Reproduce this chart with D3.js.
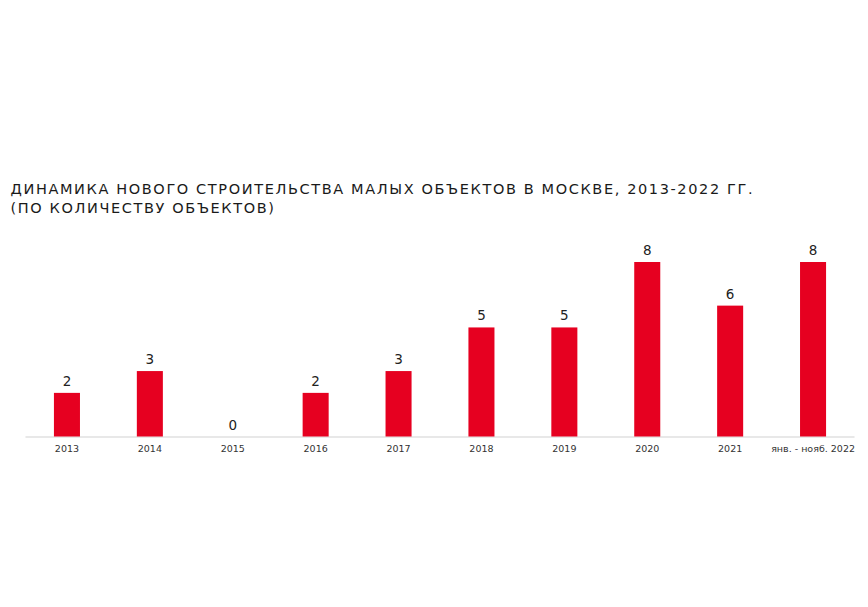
<!DOCTYPE html>
<html><head><meta charset="utf-8">
<script src="https://cdn.jsdelivr.net/npm/d3@7"></script>
<style>body{margin:0;background:#fff;}svg{display:block;}</style>
</head><body><div id="chart"></div>
<script>
const categories = ["2013","2014","2015","2016","2017","2018","2019","2020","2021","янв. - нояб. 2022"];
const values = [2,3,0,2,3,5,5,8,6,8];
const titleLines = ["ДИНАМИКА НОВОГО СТРОИТЕЛЬСТВА МАЛЫХ ОБЪЕКТОВ В МОСКВЕ, 2013-2022 ГГ.","(ПО КОЛИЧЕСТВУ ОБЪЕКТОВ)"];

const W = 868, H = 607;
const svg = d3.select("#chart").append("svg").attr("width", W).attr("height", H);

const x = d3.scaleBand().domain(categories).range([25.5, 854.5]).paddingInner(0.686).paddingOuter(0.343);
const y = d3.scaleLinear().domain([0, 8]).range([436.5, 262]);

// title
const t = svg.append("g").attr("font-family", "'DejaVu Sans', sans-serif").attr("fill", "#1a1a1a").attr("font-size", 14.5);
const t1 = t.append("text").attr("x", 10.5).attr("y", 194).text(titleLines[0]);
const len = t1.node().getComputedTextLength();
const ls = (742 - len) / (titleLines[0].length - 1);
t1.attr("letter-spacing", ls);
t.append("text").attr("x", 10.5).attr("y", 213).attr("letter-spacing", ls).text(titleLines[1]);

// axis line
svg.append("line").attr("x1", 25.5).attr("x2", 854.5).attr("y1", 437).attr("y2", 437)
  .attr("stroke", "#e8e8e8").attr("stroke-width", 2);

// bars
svg.selectAll("rect.bar").data(values).join("rect").attr("class", "bar")
  .attr("x", (d, i) => x(categories[i])).attr("width", x.bandwidth())
  .attr("y", d => y(d)).attr("height", d => y(0) - y(d)).attr("fill", "#e60020");

// value labels
svg.selectAll("text.val").data(values).join("text").attr("class", "val")
  .attr("x", (d, i) => x(categories[i]) + x.bandwidth() / 2)
  .attr("y", d => y(d) - 7).attr("text-anchor", "middle")
  .attr("font-family", "'DejaVu Sans', sans-serif").attr("font-size", 13.5).attr("fill", "#222")
  .text(d => d);

// axis
const axis = d3.axisBottom(x).tickSize(0).tickPadding(8);
const ag = svg.append("g").attr("transform", "translate(0,437)").call(axis);
ag.select(".domain").remove();
ag.selectAll("text").attr("font-family", "'DejaVu Sans', sans-serif").attr("font-size", 9.5).attr("fill", "#333");
</script></body></html>
